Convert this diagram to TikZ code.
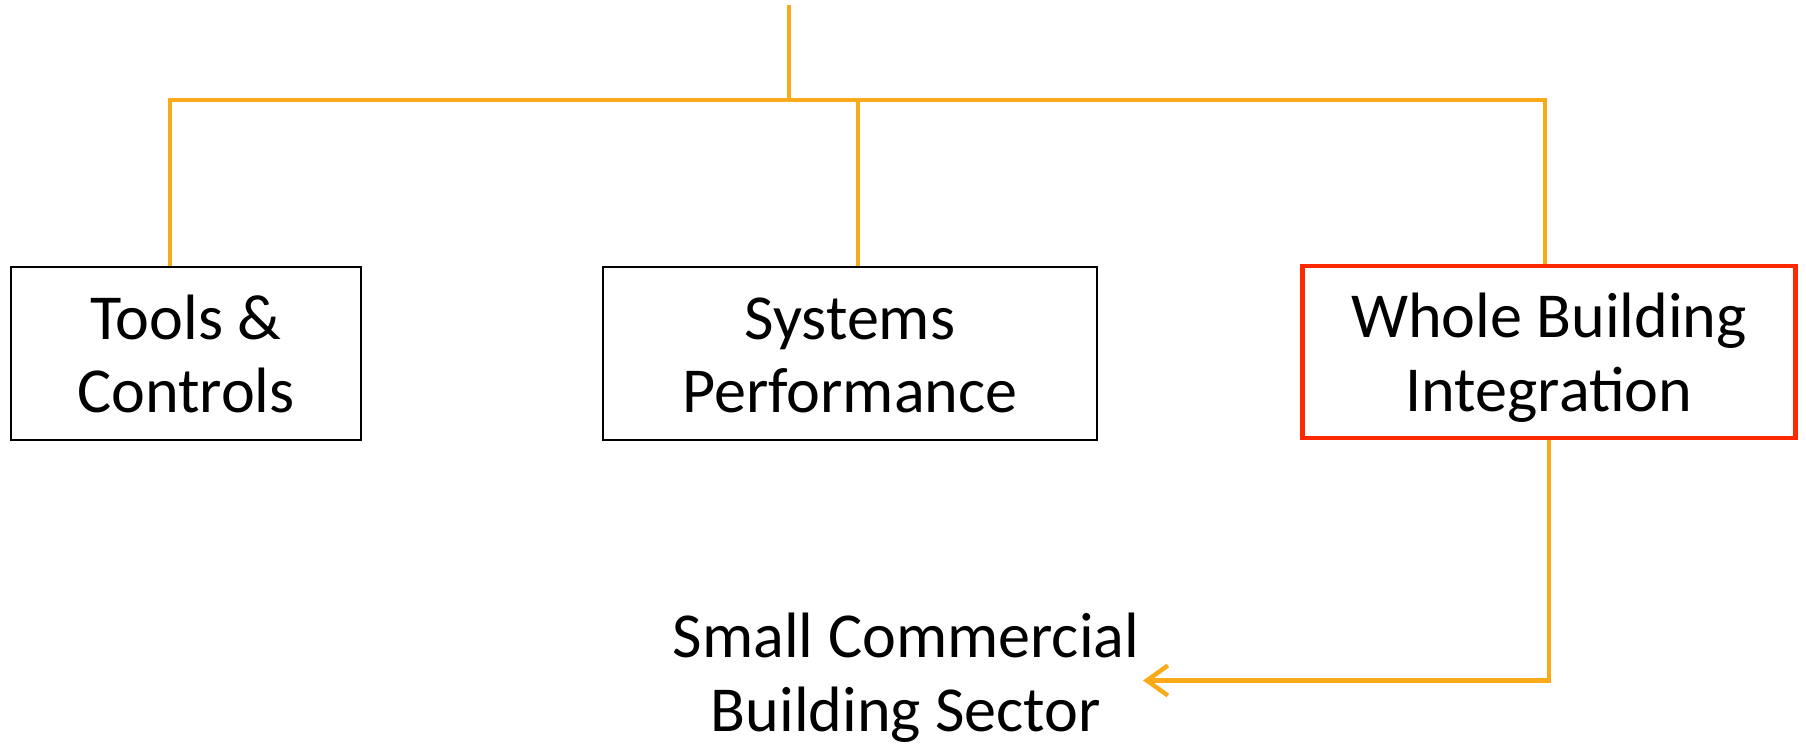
\documentclass[tikz,border=0pt]{standalone}
\usepackage{fontspec}
\setmainfont{Carlito}
\usetikzlibrary{arrows.meta}

\definecolor{linkorange}{RGB}{250,170,25}
\definecolor{hilitered}{RGB}{255,40,0}

% fixed line extents so every two-line label sits the same way
\newcommand{\firstln}{\rule{0pt}{38.7pt}}
\newcommand{\lastln}{\rule[-13.2pt]{0pt}{13.2pt}}

\begin{document}
\begin{tikzpicture}[
  x=0.02cm, y=-0.02cm,
  every node/.style={font=\fontsize{36.5}{42}\selectfont, align=center, inner sep=2pt},
  box/.style={draw=black, line width=1.1pt, minimum height=3.46cm},
  hilite/.style={draw=hilitered, line width=2.8pt, minimum height=3.42cm},
  link/.style={draw=linkorange, line width=2.5pt}
]
  \useasboundingbox (0,0) rectangle (1806,745);

  \node[box, minimum width=7cm] (tools) at (186,353.5)
    {\firstln Tools \&\\Controls\lastln};
  \node[box, minimum width=9.88cm] (systems) at (850,353.5)
    {\firstln Systems\\Performance\lastln};
  \node[hilite, minimum width=9.86cm] (whole) at (1549,352)
    {\firstln Whole Building\\Integration\lastln};
  \node (sector) at (906,680.5)
    {\strut Small Commercial\\Building Sector\lastln};

  \coordinate (root) at (789,5);
  \coordinate (split) at (789,100);

  % tree branches
  \draw[link] (root) -- (split);
  \draw[link] ([xshift=-0.32cm]tools.north) |- (split) -| ([xshift=-0.08cm]whole.north);
  \draw[link] ([xshift=0.16cm]systems.north) -- ([xshift=0.16cm]systems.north |- split);

  % feedback to the sector
  \draw[link, -{Straight Barb[length=0.42cm, width=0.6cm]}] (whole.south) |- (sector.east);
\end{tikzpicture}
\end{document}
